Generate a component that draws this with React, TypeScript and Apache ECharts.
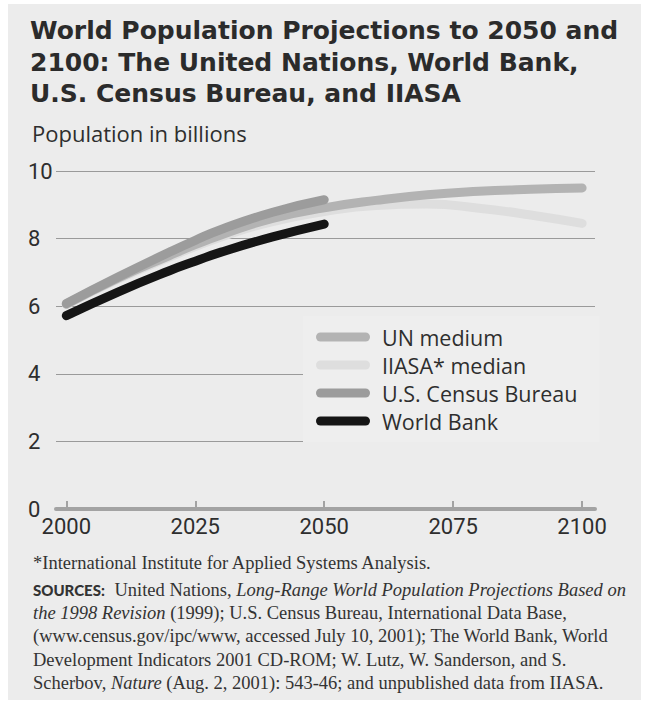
import React, { useEffect, useRef } from "react";
import * as echarts from "echarts";

// ---------- data ----------
const xTickValues = [2000, 2025, 2050, 2075, 2100];

const seriesNames = ["UN medium", "IIASA* median", "U.S. Census Bureau", "World Bank"];

const unYears = [2000, 2010, 2020, 2025, 2030, 2040, 2050, 2060, 2070, 2080, 2090, 2100];
const unValues = [6.06, 6.83, 7.5, 7.82, 8.11, 8.6, 8.91, 9.13, 9.3, 9.4, 9.46, 9.5];

const iiasaYears = [2000, 2010, 2020, 2030, 2040, 2050, 2060, 2070, 2080, 2090, 2100];
const iiasaValues = [6.05, 6.8, 7.45, 8.05, 8.5, 8.8, 8.98, 9.02, 8.9, 8.7, 8.45];

const censusYears = [2000, 2010, 2020, 2025, 2030, 2040, 2050];
const censusValues = [6.08, 6.86, 7.6, 7.95, 8.27, 8.78, 9.15];

const wbYears = [2000, 2010, 2020, 2025, 2030, 2040, 2050];
const wbValues = [5.72, 6.42, 7.05, 7.33, 7.6, 8.05, 8.43];

const titleLines = [
  "World Population Projections to 2050 and",
  "2100: The United Nations, World Bank,",
  "U.S. Census Bureau, and IIASA",
];
const yAxisTitle = "Population in billions";
const noteLines = [
  "*International Institute for Applied Systems Analysis.",
  "{b|SOURCES:} United Nations, {i|Long-Range World Population Projections Based on}",
  "{i|the 1998 Revision} (1999); U.S. Census Bureau, International Data Base,",
  "(www.census.gov/ipc/www, accessed July 10, 2001); The World Bank, World",
  "Development Indicators 2001 CD-ROM; W. Lutz, W. Sanderson, and S.",
  "Scherbov, {i|Nature} (Aug. 2, 2001): 543-46; and unpublished data from IIASA.",
];

const colors = {
  un: "#b3b3b3",
  iiasa: "#dedede",
  census: "#9c9c9c",
  wb: "#151515",
};

const pair = (xs: number[], ys: number[]) => xs.map((x, i) => [x, ys[i]]);

const stadium = "path://M4.5,0 L49.5,0 A4.5,4.5 0 0 1 49.5,9 L4.5,9 A4.5,4.5 0 0 1 4.5,0 Z";

export default function App() {
  const ref = useRef<HTMLDivElement>(null);

  useEffect(() => {
    document.body.style.margin = "0";
    const chart = echarts.init(ref.current!, null, { renderer: "svg" });

    const labelFont = "Roboto, sans-serif";
    const sansFont = "'Open Sans', 'Noto Sans', sans-serif";
    const serifFont = "'Liberation Serif', 'DejaVu Serif', serif";
    const textColor = "#2e2e2e";

    const lineSeries = (name: string, data: number[][], color: string, z: number) => ({
      type: "line",
      name,
      data,
      smooth: true,
      symbol: "none",
      z,
      lineStyle: { color, width: 9, cap: "round", join: "round" },
      itemStyle: { color },
    });

    const option: any = {
      animation: false,
      backgroundColor: "#ffffff",
      grid: { left: 56, right: 57, top: 171, bottom: 195, containLabel: false },
      xAxis: {
        type: "value",
        min: 1998,
        max: 2102.5,
        axisLine: { show: true, lineStyle: { color: "#a3a3a3", width: 4 } },
        axisTick: {
          show: true,
          inside: true,
          length: 8,
          customValues: xTickValues,
          lineStyle: { color: "#a3a3a3", width: 2 },
        },
        axisLabel: {
          customValues: xTickValues,
          fontFamily: labelFont,
          fontSize: 22,
          color: textColor,
          margin: 6,
          formatter: (v: number) => String(v),
        },
        splitLine: { show: false },
      },
      yAxis: {
        type: "value",
        min: 0,
        max: 10,
        interval: 2,
        axisLine: { show: false },
        axisTick: { show: false },
        axisLabel: {
          fontFamily: labelFont,
          fontSize: 22,
          color: textColor,
          align: "left",
          margin: 28,
        },
        splitLine: { show: true, lineStyle: { color: "#9a9a9a", width: 1 } },
      },
      legend: {
        orient: "vertical",
        left: 303,
        top: 316,
        padding: [10, 22, 10, 13],
        backgroundColor: "#eeeeee",
        itemWidth: 54,
        itemHeight: 9,
        itemGap: 6,
        data: [
          { name: seriesNames[0], icon: stadium, itemStyle: { color: colors.un } },
          { name: seriesNames[1], icon: stadium, itemStyle: { color: colors.iiasa } },
          { name: seriesNames[2], icon: stadium, itemStyle: { color: colors.census } },
          { name: seriesNames[3], icon: stadium, itemStyle: { color: colors.wb } },
        ],
        textStyle: {
          fontFamily: sansFont,
          fontSize: 21.5,
          color: textColor,
          lineHeight: 22,
          padding: [0, 0, 0, 7],
        },
      },
      graphic: [
        {
          type: "rect",
          shape: { x: 8, y: 4, width: 633, height: 696 },
          style: { fill: "#ececec" },
          z: -10,
          silent: true,
        },
        {
          type: "text",
          x: 30,
          y: 15,
          style: {
            text: titleLines.join("\n"),
            fontFamily: "'DejaVu Sans', sans-serif",
            fontWeight: "bold",
            fontSize: 25,
            lineHeight: 31.5,
            fill: "#2b2b2b",
            verticalAlign: "top",
          },
        },
        {
          type: "text",
          x: 32,
          y: 133,
          style: {
            text: yAxisTitle,
            fontFamily: sansFont,
            fontSize: 22,
            fill: textColor,
            verticalAlign: "middle",
          },
        },
        ...noteLines.map((t, i) => ({
          type: "text",
          x: 33,
          y: 563 + (i === 0 ? 0 : 27 + (i - 1) * 23.2),
          style: {
            text: t,
            fontFamily: serifFont,
            fontSize: 18.5,
            fill: "#333333",
            verticalAlign: "middle",
            rich: {
              b: {
                fontFamily: "Lato, sans-serif",
                fontWeight: 900,
                fontSize: 15,
                fill: "#333333",
                padding: [0, 5, 0, 0],
              },
              i: {
                fontFamily: serifFont,
                fontStyle: "italic",
                fontSize: 18.5,
                fill: "#333333",
              },
            },
          },
        })),
      ],
      series: [
        lineSeries(seriesNames[1], pair(iiasaYears, iiasaValues), colors.iiasa, 2),
        lineSeries(seriesNames[0], pair(unYears, unValues), colors.un, 3),
        lineSeries(seriesNames[2], pair(censusYears, censusValues), colors.census, 4),
        lineSeries(seriesNames[3], pair(wbYears, wbValues), colors.wb, 5),
      ],
    };

    chart.setOption(option);
    return () => chart.dispose();
  }, []);

  return <div ref={ref} style={{ width: 652, height: 704 }} />;
}
